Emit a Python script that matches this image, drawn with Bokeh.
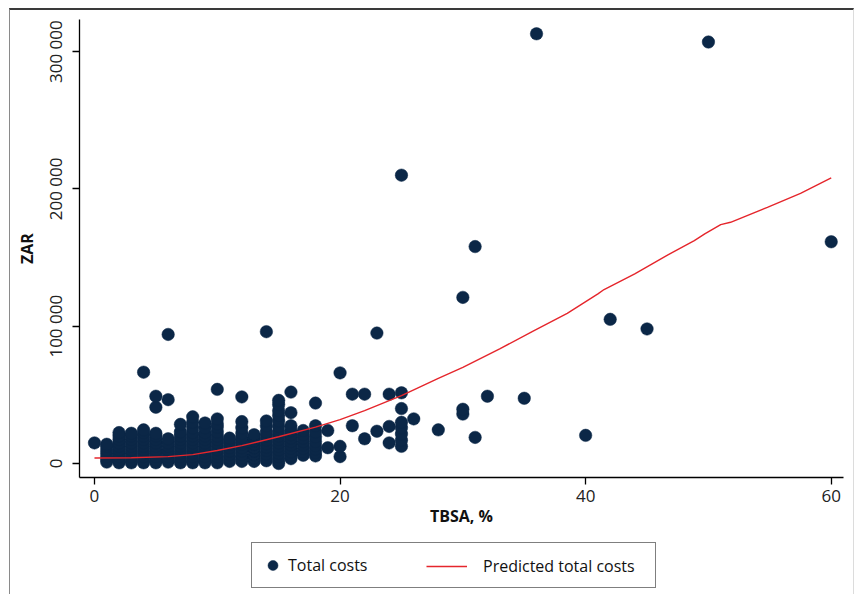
from bokeh.plotting import figure
from bokeh.layouts import column
from bokeh.models import Range1d, FixedTicker, Legend, LegendItem
from bokeh.embed import file_html
from bokeh.resources import INLINE

# ---- data ----
tbsa_groups = [0, 1, 2, 3, 4, 5, 6, 7, 8, 9, 10, 11, 12, 13, 14, 15, 16, 17, 18, 19,
               20, 21, 22, 23, 24, 25, 26, 28, 30, 31, 32, 35, 36, 40, 42, 45, 50, 60]
cost_groups = [
    [15000],
    [1000, 3000, 5000, 7500, 10000, 12500, 14000],
    [500, 2500, 5000, 7500, 10000, 12500, 15000, 17500, 20000, 22500],
    [500, 2500, 5000, 7500, 10000, 12500, 15000, 17500, 20000, 22000],
    [500, 2500, 5000, 7500, 10000, 12500, 15000, 17500, 20000, 22500, 24500, 66500],
    [500, 2500, 5000, 7500, 10000, 12500, 15000, 17500, 20000, 22000, 41000, 49000],
    [1000, 3000, 5000, 7500, 10000, 12500, 15000, 18000, 46500, 94000],
    [500, 2500, 5000, 7500, 10000, 12500, 15000, 17500, 20000, 23000, 28500],
    [500, 2500, 5000, 7500, 10000, 12500, 15000, 17500, 20000, 22500, 26000, 30000, 34000],
    [500, 2500, 5000, 7500, 10000, 12500, 15000, 17500, 20000, 22500, 26000, 29500],
    [500, 2500, 5000, 7500, 10000, 12500, 15000, 17500, 20000, 23000, 26500, 29000, 32500, 54000],
    [1500, 4000, 6500, 9000, 11500, 14000, 16500, 18500],
    [1500, 4000, 6500, 9000, 11500, 14000, 16500, 19000, 22000, 26000, 30500, 48500],
    [1500, 4000, 6500, 9000, 11500, 14000, 16500, 19000, 21000],
    [2000, 4500, 7000, 9500, 12000, 14500, 17000, 20000, 23000, 27500, 31000, 96000],
    [0, 2500, 5000, 7500, 10000, 12500, 15000, 17500, 20000, 23000, 27000, 31000, 35000, 38500, 43000, 46000],
    [3500, 6000, 8500, 11000, 13500, 16000, 18500, 21000, 24000, 27500, 37000, 52000],
    [6000, 8500, 11000, 13500, 16000, 18500, 21000, 24000],
    [5500, 8000, 10500, 13000, 16000, 19500, 23000, 27500, 44000],
    [11500, 24000],
    [5000, 12500, 66000],
    [27500, 50500],
    [18000, 50500],
    [23500, 95000],
    [15000, 27000, 50500],
    [12500, 17000, 21500, 26000, 30000, 40000, 51500, 210000],
    [32500],
    [24500],
    [36000, 39500, 121000],
    [19000, 158000],
    [49000],
    [47500],
    [313000],
    [20500],
    [105000],
    [98000],
    [307000],
    [161500],
]

pred_tbsa = [0, 3, 6, 8, 10, 12, 15, 18, 20, 22, 25, 28, 30, 33, 35.8, 38.5, 41, 41.5,
             44, 46.7, 48.85, 49.7, 51, 51.8, 54.8, 57.5, 60]
pred_cost = [4000, 4200, 5000, 6500, 9500, 13000, 19500, 26500, 32000, 38500, 49500, 62000,
             70000, 83500, 96800, 109400, 123500, 126700, 138100, 151900, 162300, 167200,
             174000, 175700, 186600, 196800, 208000]

y_ticks = [0, 100000, 200000, 300000]
y_tick_labels = ["0", "100 000", "200 000", "300 000"]
x_ticks = [0, 20, 40, 60]
series_labels = ["Total costs", "Predicted total costs"]

NAVY = "#0b2747"
RED = "#e5262c"
FONT = "Open Sans"

xs, ys = [], []
for t, cs in zip(tbsa_groups, cost_groups):
    for c in cs:
        xs.append(t)
        ys.append(c)

p = figure(width=843, height=527, output_backend="svg", toolbar_location=None,
           x_range=Range1d(-1.22, 61.0), y_range=Range1d(-10200, 323400),
           min_border_left=69, min_border_right=10, min_border_top=9, min_border_bottom=60)
p.outline_line_color = None
p.xgrid.visible = False
p.ygrid.visible = False
p.background_fill_color = "white"
p.border_fill_color = "white"

sc = p.scatter(xs, ys, size=12.5, fill_color=NAVY, line_color=NAVY, line_width=0.5)
ln = p.line(pred_tbsa, pred_cost, line_color=RED, line_width=1.4)

for ax in (p.xaxis[0], p.yaxis[0]):
    ax.axis_line_color = "black"
    ax.axis_line_width = 1.3
    ax.major_tick_line_color = "black"
    ax.major_tick_line_width = 1.3
    ax.major_tick_in = 0
    ax.major_tick_out = 7
    ax.minor_tick_line_color = None
    ax.major_label_text_font = FONT
    ax.major_label_text_color = "#222222"
    ax.axis_label_text_font = FONT
    ax.axis_label_text_font_style = "bold"
    ax.axis_label_text_font_size = "16px"
    ax.axis_label_text_color = "#111111"

p.xaxis.ticker = FixedTicker(ticks=x_ticks)
p.xaxis.major_label_text_font_size = "17px"
p.xaxis.major_label_standoff = 5
p.xaxis.axis_label = "TBSA, %"
p.xaxis.axis_label_standoff = 0

p.yaxis.ticker = FixedTicker(ticks=y_ticks)
p.yaxis.major_label_overrides = {t: l for t, l in zip(y_ticks, y_tick_labels)}
p.yaxis.major_label_orientation = "vertical"
p.yaxis.major_label_text_font_size = "17px"
p.yaxis.major_label_standoff = 5
p.yaxis.axis_label = "ZAR"
p.yaxis.axis_label_standoff = 4

# ---- legend strip below the chart (its own renderers lie outside its view) ----
lg = figure(width=843, height=57, output_backend="svg", toolbar_location=None,
            x_range=Range1d(-3, -2), y_range=Range1d(-3, -2),
            x_axis_type=None, y_axis_type=None,
            min_border_left=0, min_border_right=0, min_border_top=0, min_border_bottom=0)
lg.outline_line_color = None
lg.xgrid.visible = False
lg.ygrid.visible = False
lg.background_fill_color = "white"
lg.border_fill_color = "white"
sc_key = lg.scatter(xs, ys, size=12.5, fill_color=NAVY, line_color=NAVY, line_width=0.5)
ln_key = lg.line(pred_tbsa, pred_cost, line_color=RED, line_width=1.4)

box_legend = Legend(items=[LegendItem(label=series_labels[0], renderers=[sc_key])],
                    location=(172, 6), orientation="horizontal",
                    glyph_width=25, glyph_height=28, label_standoff=3, label_width=359,
                    padding=8, margin=0, border_line_color="black", border_line_width=1.3,
                    background_fill_alpha=0,
                    label_text_font=FONT, label_text_font_size="16px",
                    label_text_color="#111111")
line_legend = Legend(items=[LegendItem(label=series_labels[1], renderers=[ln_key])],
                     location=(347, 14), orientation="horizontal",
                     glyph_width=41, glyph_height=28, label_standoff=16,
                     padding=0, margin=0, border_line_alpha=0, background_fill_alpha=0,
                     label_text_font=FONT, label_text_font_size="16px",
                     label_text_color="#111111")
lg.add_layout(box_legend, "center")
lg.add_layout(line_legend, "center")

layout = column(p, lg, spacing=0,
                styles={"margin-left": "9px", "margin-top": "8px",
                        "border-top": "2px solid #3a3a3a", "border-left": "1px solid #8a8a8a",
                        "border-right": "1px solid #dcdcdc"})

open("out.html", "w").write(file_html(layout, INLINE))
